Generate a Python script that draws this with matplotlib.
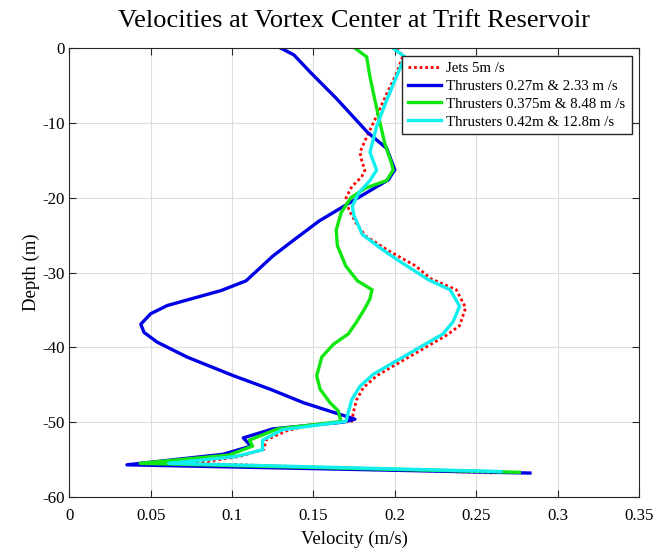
import numpy as np
import matplotlib
matplotlib.use("Agg")
import matplotlib.pyplot as plt

plt.rcParams['font.family'] = ['Liberation Serif', 'DejaVu Serif']
plt.rcParams['axes.unicode_minus'] = False

# Jets 5 m/s
jets_depth = [0, -1.0, -3.4, -6.1, -9.0, -11.4, -13.9, -15.0, -16.3, -17.2, -18.5, -20.0,
              -21.6, -23.3, -25.1, -27.1, -29.1, -30.8, -32.3, -34.7, -37.1, -38.4, -40.2,
              -42.0, -43.8, -45.4, -47.0, -48.7, -49.9, -50.4, -51.2, -52.4, -53.6, -54.6,
              -55.5, -56.8]
jets_vel = [0.201, 0.205, 0.201, 0.195, 0.189, 0.1837, 0.1786, 0.1796, 0.1816, 0.1796, 0.1736,
            0.1700, 0.1718, 0.1759, 0.182, 0.1963, 0.2127, 0.222, 0.2378, 0.2435, 0.2398,
            0.2316, 0.2173, 0.203, 0.1888, 0.1806, 0.1765, 0.1745, 0.1735, 0.147, 0.133,
            0.1207, 0.1197, 0.1044, 0.0769, 0.262]

# Thrusters 0.27m & 2.33 m/s
t1_depth = [0, -0.9, -3.2, -6.7, -11.2, -13.4, -16.25, -17.6, -20.7, -23.1, -25.8, -27.8,
            -31.1, -32.4, -34.4, -35.5, -36.9, -38.0, -39.3, -41.3, -43.8, -45.6, -47.4,
            -49.6, -50.0, -50.9, -52.1, -53.2, -54.3, -55.7, -56.8]
t1_vel = [0.130, 0.138, 0.148, 0.164, 0.183, 0.195, 0.200, 0.196, 0.172, 0.1535, 0.137, 0.125,
          0.1086, 0.0933, 0.0602, 0.050, 0.0439, 0.0459, 0.054, 0.0724, 0.101, 0.1235, 0.1439,
          0.1755, 0.168, 0.125, 0.1069, 0.1116, 0.0943, 0.0354, 0.283]

# Thrusters 0.375m & 8.48 m/s
t2_depth = [0, -1.16, -3.8, -7.0, -9.9, -12.8, -15.4, -16.3, -17.7, -18.7, -20.0, -22.0,
            -24.3, -26.4, -29.1, -31.1, -32.3, -33.5, -34.8, -36.6, -38.2, -39.6, -41.3,
            -43.8, -45.6, -47.4, -48.5, -49.4, -49.9, -50.9, -52.4, -53.2, -54.4, -55.5,
            -56.7]
t2_vel = [0.1755, 0.1827, 0.1847, 0.1878, 0.1908, 0.1939, 0.198, 0.199, 0.1949, 0.182, 0.173,
          0.167, 0.164, 0.1647, 0.1698, 0.177, 0.1860, 0.1847, 0.1816, 0.1765, 0.1714, 0.1622,
          0.1551, 0.152, 0.1541, 0.1602, 0.1653, 0.1663, 0.167, 0.128, 0.1106, 0.1126, 0.098,
          0.0435, 0.2765]

# Thrusters 0.42m & 12.8m/s
t3_depth = [0, -1.16, -3.8, -7.0, -10.5, -13.9, -16.3, -17.7, -19.3, -21.1, -22.4, -24.9,
            -26.9, -28.5, -31.0, -32.3, -34.5, -36.6, -38.2, -40.0, -41.8, -43.6, -45.2,
            -47.0, -48.7, -49.9, -51.0, -52.4, -53.7, -54.6, -55.5, -56.6]
t3_vel = [0.199, 0.2061, 0.201, 0.1949, 0.1888, 0.1847, 0.1888, 0.1847, 0.178, 0.1739, 0.1749,
          0.180, 0.1922, 0.203, 0.221, 0.234, 0.2398, 0.2357, 0.2296, 0.2153, 0.201, 0.1867,
          0.1786, 0.1735, 0.1714, 0.170, 0.131, 0.1187, 0.1187, 0.102, 0.061, 0.2653]

labels = ['Jets 5m /s', 'Thrusters 0.27m & 2.33 m /s',
          'Thrusters 0.375m & 8.48 m /s', 'Thrusters 0.42m & 12.8m /s']
xticks = [0, 0.05, 0.1, 0.15, 0.2, 0.25, 0.3, 0.35]
xticklabels = ['0', '0.05', '0.1', '0.15', '0.2', '0.25', '0.3', '0.35']
yticks = [0, -10, -20, -30, -40, -50, -60]

fig = plt.figure(figsize=(6.54, 5.5), dpi=100)
ax = fig.add_axes([0.106, 0.0964, 0.871, 0.816])

ax.plot(jets_vel, jets_depth, color='red', ls=(0, (1, 1)), lw=2, label=labels[0])
ax.plot(t1_vel, t1_depth, color='#0000e6', lw=2.4, label=labels[1])
ax.plot(t2_vel, t2_depth, color='#10e610', lw=2.4, label=labels[2])
ax.plot(t3_vel, t3_depth, color='#10eeee', lw=2.4, label=labels[3])

ax.set_xlim(0, 0.35)
ax.set_ylim(-60, 0)
ax.set_xticks(xticks)
ax.set_xticklabels(xticklabels)
ax.set_yticks(yticks)
ax.set_yticklabels([str(t) for t in yticks])
ax.grid(True, color='#dddddd', lw=0.8)
ax.set_axisbelow(True)
ax.tick_params(direction='in', top=True, right=True, length=5, width=0.8,
               labelsize=12.2, colors='#262626', labelcolor='black')
ax.tick_params(axis='x', pad=8)
ax.tick_params(axis='y', pad=3)
for s in ax.spines.values():
    s.set_color('#262626')
    s.set_linewidth(0.8)

ax.set_xlabel('Velocity (m/s)', fontsize=13.5, labelpad=5)
ax.set_ylabel('Depth (m)', fontsize=13.5, labelpad=2)
ax.set_title('Velocities at Vortex Center at Trift Reservoir', fontsize=19, pad=15)

leg = ax.legend(loc='upper right', fontsize=10.7, frameon=True, fancybox=False,
                edgecolor='#262626', framealpha=1, handlelength=2.2,
                handletextpad=0.4, borderpad=0.4, labelspacing=0.3,
                borderaxespad=0.5)
leg.get_frame().set_linewidth(1.0)

fig.savefig('out.png', dpi=100)
